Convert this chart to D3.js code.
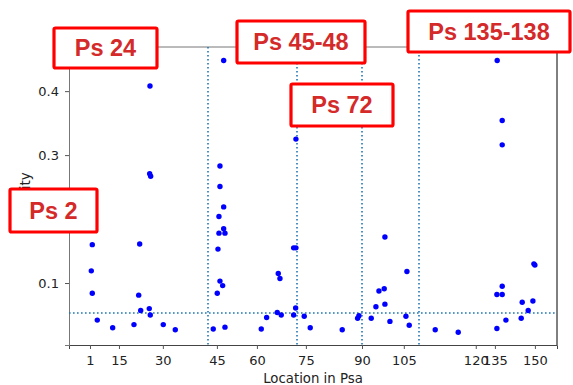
<!DOCTYPE html>
<html>
<head>
<meta charset="utf-8">
<script src="https://cdnjs.cloudflare.com/ajax/libs/d3/7.8.5/d3.min.js"></script>
<style>
  body { margin: 0; background: #fff; }
  text { font-family: "DejaVu Sans", sans-serif; }
  .boxText { font-family: "Liberation Sans", Arial, sans-serif; font-weight: bold; }
</style>
</head>
<body>
<div id="chart"></div>
<script>
// location of each point on the Psa axis, and its value
var locs = [
  1.77, 1.44, 1.77, 3.44, 8.60, 15.73, 17.64, 17.31, 17.98, 20.86, 21.19, 25.54, 29.56, 21.09, 20.99, 21.32,
  42.28, 43.62, 43.86, 44.19, 44.19, 44.53, 44.53, 44.53, 45.43, 45.77, 45.77, 45.77, 46.20, 46.20,
  58.36, 60.16, 63.71, 64.05, 64.62, 65.05, 69.20, 69.20, 69.87, 69.97, 69.97, 72.75, 74.76,
  85.48, 90.63, 91.07, 95.19, 96.76, 97.77, 99.54, 99.77, 99.77, 101.45, 106.81, 107.14, 107.91,
  116.62, 124.32, 137.27, 137.27, 137.37, 139.05, 139.05, 139.05, 139.05, 140.29, 145.41, 145.75, 147.75, 149.33, 149.66, 150.0
];
var vals = [
  0.160, 0.119, 0.084, 0.042, 0.030, 0.035, 0.161, 0.081, 0.057, 0.060, 0.050, 0.035, 0.027, 0.408, 0.271, 0.267,
  0.028, 0.084, 0.153, 0.204, 0.178, 0.103, 0.283, 0.251, 0.096, 0.219, 0.185, 0.448, 0.178, 0.031,
  0.028, 0.046, 0.054, 0.115, 0.107, 0.050, 0.155, 0.050, 0.061, 0.155, 0.325, 0.048, 0.030,
  0.027, 0.045, 0.049, 0.045, 0.063, 0.0875, 0.091, 0.172, 0.067, 0.040, 0.048, 0.118, 0.034,
  0.027, 0.023, 0.082, 0.029, 0.448, 0.082, 0.095, 0.354, 0.316, 0.042, 0.045, 0.070, 0.057, 0.072, 0.130, 0.128
];

var xTickPos = [1, 10.7, 25.4, 43.5, 56.9, 73.3, 92.1, 106.1, 130.2, 136.6, 150];
var xTickLabels = ["1", "15", "30", "45", "60", "75", "90", "105", "120", "135", "150"];
var yTicks = [0.1, 0.2, 0.3, 0.4];

var markerLines = [40.5, 70.3, 92.1, 111.2];
var threshold = 0.053;

var boxLabels = ["Ps 24", "Ps 45-48", "Ps 72", "Ps 135-138", "Ps 2"];

var width = 573;
var height = 385;
var margin = { top: 47, right: 16, bottom: 40, left: 69 };

var svg = d3
  .select("#chart")
  .append("svg")
  .attr("width", width)
  .attr("height", height);

var xScale = d3
  .scaleLinear()
  .domain([-6.03, 157.4])
  .range([margin.left, width - margin.right]);
var yScale = d3
  .scaleLinear()
  .domain([0.0031, 0.469])
  .range([height - margin.bottom, margin.top]);

// axes
var xAxis = d3
  .axisBottom(xScale)
  .tickValues(xTickPos)
  .tickFormat(function(d, i) { return xTickLabels[i]; })
  .tickSize(4)
  .tickPadding(6.5);
var yAxis = d3
  .axisLeft(yScale)
  .tickValues(yTicks)
  .tickFormat(d3.format(".1f"))
  .tickSize(4)
  .tickPadding(6);

var gx = svg
  .append("g")
  .attr("transform", "translate(0," + (height - margin.bottom) + ")")
  .call(xAxis);
gx.select(".domain").attr("stroke", "#444");
var gy = svg
  .append("g")
  .attr("transform", "translate(" + margin.left + ",0)")
  .call(yAxis);
gy.select(".domain").attr("stroke", "#777");

svg.selectAll(".tick line").attr("stroke", "#555");
svg.selectAll(".tick text").attr("fill", "#222").style("font-size", "13px");

// top and right spines
svg.append("line")
  .attr("x1", margin.left).attr("x2", width - margin.right)
  .attr("y1", margin.top).attr("y2", margin.top)
  .attr("stroke", "#777");
svg.append("line")
  .attr("x1", width - margin.right).attr("x2", width - margin.right)
  .attr("y1", margin.top).attr("y2", height - margin.bottom)
  .attr("stroke", "#000");

// dotted reference lines
svg.selectAll(".vline")
  .data(markerLines)
  .enter()
  .append("line")
  .attr("class", "vline")
  .attr("x1", function(d) { return Math.round(xScale(d)); })
  .attr("x2", function(d) { return Math.round(xScale(d)); })
  .attr("y1", margin.top)
  .attr("y2", height - margin.bottom)
  .attr("stroke", "#1f77b4")
  .attr("stroke-width", 1.6)
  .attr("stroke-dasharray", "1.6,2.4");

svg.append("line")
  .attr("x1", margin.left)
  .attr("x2", width - margin.right)
  .attr("y1", Math.round(yScale(threshold)))
  .attr("y2", Math.round(yScale(threshold)))
  .attr("stroke", "#1f77b4")
  .attr("stroke-width", 1.6)
  .attr("stroke-dasharray", "1.6,2.4");

// points
svg.selectAll("circle")
  .data(locs)
  .enter()
  .append("circle")
  .attr("cx", function(d) { return xScale(d); })
  .attr("cy", function(d, i) { return yScale(vals[i]); })
  .attr("r", 2.7)
  .attr("fill", "#0000ff");

// axis titles
svg.append("text")
  .attr("x", (margin.left + width - margin.right) / 2)
  .attr("y", 382.5)
  .attr("text-anchor", "middle")
  .attr("fill", "#222")
  .style("font-size", "13.3px")
  .text("Location in Psa");

svg.append("text")
  .attr("transform", "translate(29.5,202)rotate(-90)")
  .attr("text-anchor", "middle")
  .attr("fill", "#222")
  .style("font-size", "13.3px")
  .text("Diversity");

// red annotation boxes
var boxes = [
  { x: 54, y: 28, w: 103, h: 40 },
  { x: 237, y: 21, w: 128, h: 42 },
  { x: 291, y: 84, w: 102, h: 42 },
  { x: 408, y: 11, w: 162, h: 41 },
  { x: 10, y: 189, w: 87, h: 43 }
];

var labelG = svg.selectAll(".box")
  .data(boxLabels)
  .enter()
  .append("g")
  .attr("class", "box");

labelG.append("rect")
  .attr("x", function(d, i) { return boxes[i].x; })
  .attr("y", function(d, i) { return boxes[i].y; })
  .attr("width", function(d, i) { return boxes[i].w; })
  .attr("height", function(d, i) { return boxes[i].h; })
  .attr("rx", 1.5)
  .attr("fill", "#fff")
  .attr("stroke", "#ff0000")
  .attr("stroke-width", 3.2);

labelG.append("text")
  .attr("class", "boxText")
  .attr("x", function(d, i) { return boxes[i].x + boxes[i].w / 2; })
  .attr("y", function(d, i) { return boxes[i].y + boxes[i].h / 2; })
  .attr("dy", "0.36em")
  .attr("text-anchor", "middle")
  .attr("fill", "#d42a2a")
  .style("font-size", "23.5px")
  .text(function(d) { return d; });
</script>
</body>
</html>
